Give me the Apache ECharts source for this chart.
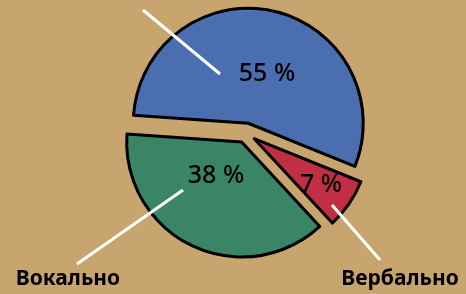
<!DOCTYPE html>
<html>
<head>
<meta charset="utf-8">
<script src="https://cdn.jsdelivr.net/npm/echarts@6/dist/echarts.min.js"></script>
<style>
  html, body { margin: 0; padding: 0; background: #c8a56e; }
  #chart { width: 466px; height: 294px; }
</style>
</head>
<body>
<div id="chart"></div>
<script>
const categories = ['Невербально', 'Вербально', 'Вокально'];
const shares = [55, 7, 38];
const colors = ['#4a6eb0', '#c22f45', '#3a8566'];

// text placement for each slice (same order as categories)
const pctSpots = [[267, 74], [321, 185], [216, 176]];
const nameSpots = [[118, -12], [400, 279], [68, 279]];
const leaderLines = [
    [[220, 74], [143, 10]],
    [[332, 205], [380, 260]],
    [[183, 190], [77, 264]]
];

const chart = echarts.init(document.getElementById('chart'));

const pieBase = {
    type: 'pie',
    center: [246, 133],
    radius: 115,
    startAngle: 176,
    clockwise: true,
    animation: false,
    avoidLabelOverlap: false,
    emphasis: { disabled: true }
};

const textFont = { color: '#000', fontFamily: 'Noto Sans', overflow: 'none' };

// transparent copy of the pie that only carries texts
const textPie = (label, labelLine, layout) => Object.assign({}, pieBase, {
    z: 3,
    silent: true,
    data: categories.map((name, i) => ({ name: name, value: shares[i] })),
    itemStyle: { color: 'rgba(0,0,0,0)', borderWidth: 0 },
    label: label,
    labelLine: labelLine,
    labelLayout: layout
});

chart.setOption({
    backgroundColor: '#c8a56e',
    series: [
        Object.assign({}, pieBase, {
            selectedMode: 'multiple',
            selectedOffset: 10,
            data: categories.map((name, i) => ({
                name: name,
                value: shares[i],
                selected: true,
                itemStyle: { color: colors[i] }
            })),
            itemStyle: { borderColor: '#000', borderWidth: 3, borderJoin: 'round' },
            label: { show: false },
            labelLine: { show: false }
        }),
        textPie(
            Object.assign({ show: true, position: 'inside', formatter: '{c} %', fontSize: 25, fontWeight: 500 }, textFont),
            { show: false },
            p => ({
                x: pctSpots[p.dataIndex][0],
                y: pctSpots[p.dataIndex][1],
                align: 'center',
                verticalAlign: 'middle'
            })
        ),
        textPie(
            Object.assign({ show: true, position: 'outside', formatter: '{b}', fontSize: 21, fontWeight: 'bold' }, textFont),
            { show: true, length: 10, length2: 0, lineStyle: { color: '#fff', width: 3 } },
            p => ({
                x: nameSpots[p.dataIndex][0],
                y: nameSpots[p.dataIndex][1],
                align: 'center',
                verticalAlign: 'middle',
                labelLinePoints: leaderLines[p.dataIndex]
            })
        )
    ]
});
</script>
</body>
</html>
